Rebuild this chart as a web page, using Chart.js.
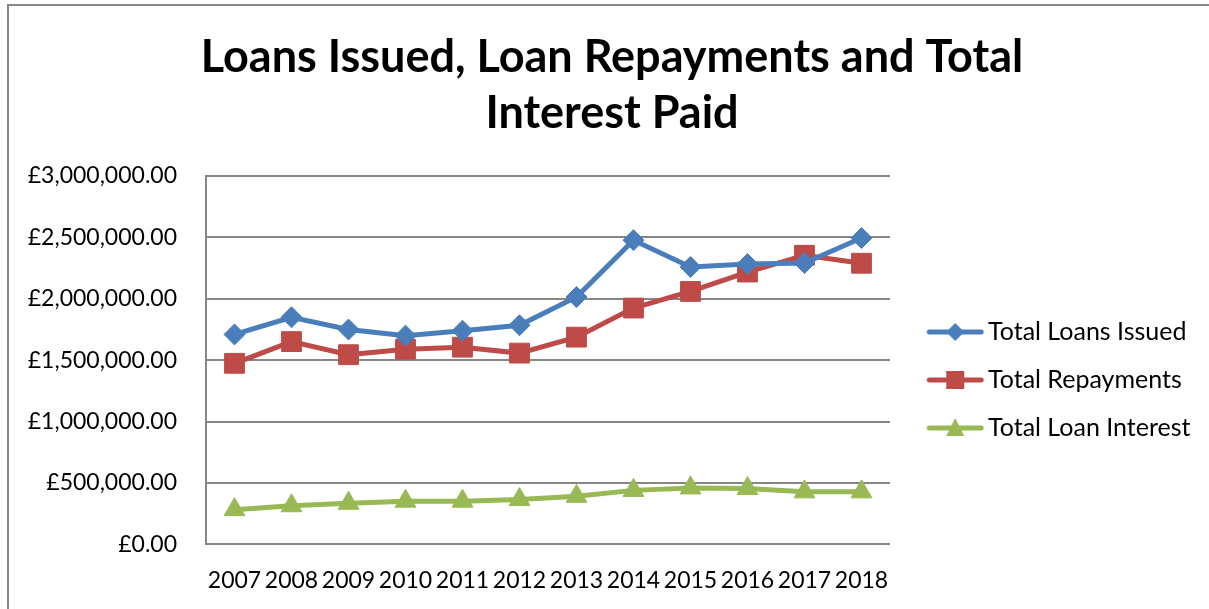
<!DOCTYPE html>
<html>
<head>
<meta charset="utf-8">
<script src="https://cdn.jsdelivr.net/npm/chart.js@4/dist/chart.umd.min.js"></script>
<style>
    body { margin: 0; background: #fff; }
    #wrap { position: relative; width: 1209px; height: 609px; }
    #frame { position: absolute; left: 7px; top: 4px; right: -2px; bottom: -2px; border-left: 2px solid #868686; border-top: 2px solid #868686; pointer-events: none; }
</style>
</head>
<body>
<div id="wrap">
    <canvas id="chart" width="1209" height="609"></canvas>
    <div id="frame"></div>
</div>
<script>
// --- DATA ---
const years = ['2007', '2008', '2009', '2010', '2011', '2012', '2013', '2014', '2015', '2016', '2017', '2018'];
const loansIssued = [1710000, 1850000, 1750000, 1700000, 1740000, 1785000, 2015000, 2478000, 2260000, 2283000, 2292000, 2495000];
const repayments = [1475000, 1652000, 1545000, 1590000, 1606000, 1558000, 1688000, 1925000, 2060000, 2218000, 2355000, 2290000];
const loanInterest = [283000, 315000, 335000, 352000, 352000, 365000, 392000, 440000, 460000, 455000, 428000, 428000];
const seriesNames = ['Total Loans Issued', 'Total Repayments', 'Total Loan Interest'];
const colors = ['#4A7EBB', '#BE4B48', '#98B954'];

const FONT = 'Lato';

// legend swatch: line with the series marker on it
function legendIcon(color, shape) {
    const c = document.createElement('canvas');
    c.width = 80; c.height = 24;
    const g = c.getContext('2d');
    g.strokeStyle = color; g.fillStyle = color;
    g.lineWidth = 5; g.lineCap = 'round';
    g.beginPath(); g.moveTo(25, 12); g.lineTo(77, 12); g.stroke();
    const cx = 51, cy = 12;
    g.beginPath();
    if (shape === 'diamond') {
        g.moveTo(cx - 9, cy); g.lineTo(cx, cy - 9); g.lineTo(cx + 9, cy); g.lineTo(cx, cy + 9);
    } else if (shape === 'square') {
        g.rect(cx - 9, cy - 9, 18, 18);
    } else {
        g.moveTo(cx, cy - 10); g.lineTo(cx + 9, cy + 8); g.lineTo(cx - 9, cy + 8);
    }
    g.closePath(); g.fill();
    return c;
}
const icons = [legendIcon(colors[0], 'diamond'), legendIcon(colors[1], 'square'), legendIcon(colors[2], 'triangle')];

function money(v) {
    return '£' + Number(v).toLocaleString('en-GB', { minimumFractionDigits: 2, maximumFractionDigits: 2 });
}

function series(i, data, style, radius) {
    return {
        label: seriesNames[i],
        data: data,
        borderColor: colors[i],
        backgroundColor: colors[i],
        borderWidth: 5,
        pointStyle: style,
        pointRadius: radius,
        pointBorderWidth: 1,
        pointBackgroundColor: colors[i],
        pointBorderColor: colors[i],
        tension: 0
    };
}

// move the legend block down beside the middle of the plot, let its text run to the edge,
// and widen the y axis box so its labels are not clipped
const layoutFix = {
    id: 'layoutFix',
    afterLayout(chart) {
        const lg = chart.legend;
        if (lg) {
            lg.top += 83; lg.bottom += 83;
            lg.right = chart.width; lg.width = lg.right - lg.left;
        }
        const y = chart.scales.y;
        y.left = 0; y.width = y.right;
    }
};

new Chart(document.getElementById('chart').getContext('2d'), {
    type: 'line',
    data: {
        labels: years,
        datasets: [
            series(0, loansIssued, 'rectRot', 10.5),
            series(1, repayments, 'rect', 14),
            series(2, loanInterest, 'triangle', 12)
        ]
    },
    plugins: [layoutFix],
    options: {
        responsive: false,
        animation: false,
        layout: { padding: { left: 56, right: 41, top: 0, bottom: 15 } },
        plugins: {
            tooltip: { enabled: false },
            title: {
                display: true,
                text: ['Loans Issued, Loan Repayments and Total', 'Interest Paid'],
                color: '#000',
                font: { family: FONT, size: 45, weight: 'bold', lineHeight: 1.245 },
                padding: { top: 29, bottom: 35 }
            },
            legend: {
                position: 'right',
                labels: {
                    color: '#000',
                    font: { family: FONT, size: 25 },
                    usePointStyle: true,
                    pointStyleWidth: 62.5,
                    padding: 23,
                    generateLabels: chart => chart.data.datasets.map((ds, i) => ({
                        text: ds.label,
                        pointStyle: icons[i],
                        fillStyle: ds.borderColor,
                        strokeStyle: ds.borderColor,
                        lineWidth: 0,
                        fontColor: '#000',
                        hidden: false,
                        datasetIndex: i
                    }))
                }
            }
        },
        scales: {
            x: {
                offset: true,
                grid: { display: false, drawTicks: false },
                border: { display: false },
                ticks: { color: '#000', font: { family: FONT, size: 23 }, padding: 22, maxRotation: 0, autoSkip: false },
                afterFit: s => { s.height -= s.options.ticks.padding; }
            },
            y: {
                min: 0,
                max: 3000000,
                grid: { color: '#868686', lineWidth: 2, drawTicks: false },
                border: { display: true, color: '#868686', width: 2 },
                ticks: { stepSize: 500000, color: '#000', font: { family: FONT, size: 23 }, padding: 29, callback: v => money(v) },
                afterFit: s => { s.width = 150; }
            }
        }
    }
});
</script>
</body>
</html>
